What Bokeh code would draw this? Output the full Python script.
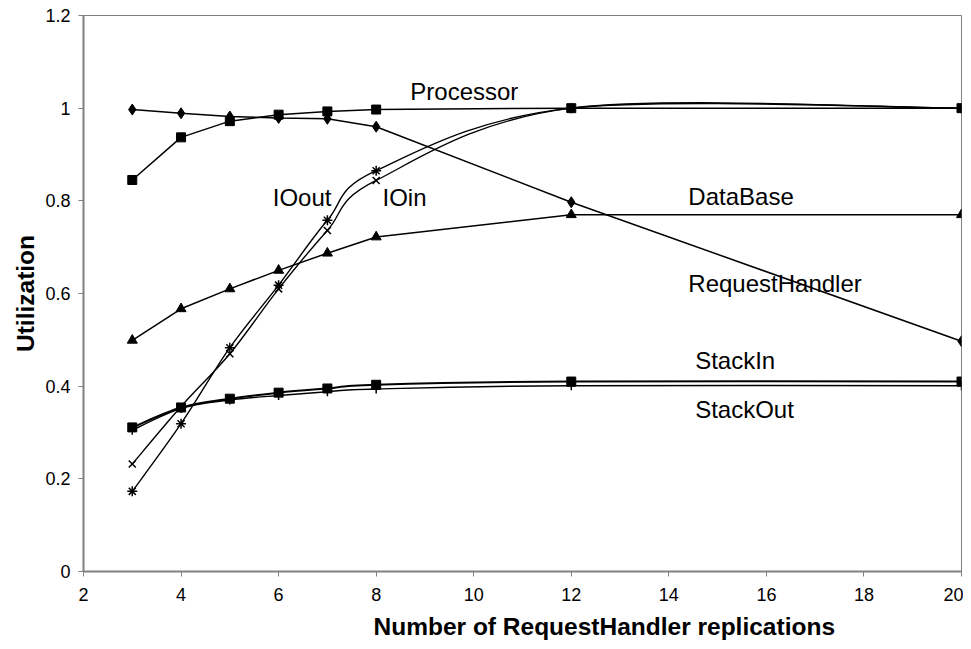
import numpy as np
from bokeh.plotting import figure
from bokeh.models import FixedTicker, Range1d, ColumnDataSource, Title
from bokeh.core.properties import value
from bokeh.embed import file_html
from bokeh.resources import INLINE

# ---- data ----
replications = [3, 4, 5, 6, 7, 8, 12, 20]
processor = [0.845, 0.937, 0.972, 0.986, 0.993, 0.997, 1.0, 1.0]
request_handler = [0.997, 0.989, 0.982, 0.979, 0.977, 0.960, 0.797, 0.497]
database = [0.499, 0.567, 0.610, 0.650, 0.687, 0.722, 0.770, 0.770]
io_in = [0.232, 0.356, 0.470, 0.610, 0.736, 0.844, 1.0, 1.0]
io_out = [0.173, 0.319, 0.483, 0.618, 0.758, 0.865, 1.0, 1.0]
stack_in = [0.311, 0.354, 0.373, 0.386, 0.395, 0.403, 0.410, 0.410]
stack_out = [0.305, 0.352, 0.370, 0.380, 0.388, 0.394, 0.401, 0.401]

x_ticks = [2, 4, 6, 8, 10, 12, 14, 16, 18, 20]
y_ticks = [0, 0.2, 0.4, 0.6, 0.8, 1.0, 1.2]
y_tick_labels = ["0", "0.2", "0.4", "0.6", "0.8", "1", "1.2"]

x_title = "Number of RequestHandler replications"
y_title = "Utilization"

label_texts = ["Processor", "IOout", "IOin", "DataBase", "RequestHandler", "StackIn", "StackOut"]
label_x = [8.70, 5.88, 8.13, 14.40, 14.40, 14.54, 14.54]
label_y = [1.037, 0.807, 0.807, 0.809, 0.622, 0.455, 0.350]

FONT = "Liberation Sans"
GRAY = "#808080"

p = figure(width=963, height=649, output_backend="svg", toolbar_location=None,
           x_range=Range1d(2, 20), y_range=Range1d(0, 1.2),
           min_border_left=83, min_border_right=2, min_border_top=15, min_border_bottom=78)
p.background_fill_color = "white"
p.border_fill_color = "white"
p.outline_line_color = GRAY
p.outline_line_width = 1
p.xgrid.visible = False
p.ygrid.visible = False

p.xaxis.ticker = FixedTicker(ticks=x_ticks)
p.yaxis.ticker = FixedTicker(ticks=y_ticks)
p.yaxis.major_label_overrides = {t: l for t, l in zip(y_ticks, y_tick_labels)}
for ax in (p.xaxis[0], p.yaxis[0]):
    ax.axis_line_color = GRAY
    ax.axis_line_width = 2
    ax.major_tick_line_color = GRAY
    ax.major_tick_in = 0
    ax.major_tick_out = 5
    ax.minor_tick_line_color = None
    ax.major_label_text_font = FONT
    ax.major_label_text_font_size = "18px"
    ax.major_label_text_color = "black"
    ax.axis_label_text_font = FONT
    ax.axis_label_text_font_size = "24.5px"
    ax.axis_label_text_font_style = "bold"
    ax.axis_label_text_color = "black"
p.yaxis.axis_label = y_title
p.xaxis.major_label_standoff = 11
p.yaxis.major_label_standoff = 8
p.yaxis.axis_label_standoff = 3

# x-axis title, offset to the right as in the original
p.add_layout(Title(text=x_title, align="left", offset=290, standoff=14,
                   text_font=FONT, text_font_size="24.5px", text_font_style="bold",
                   text_color="black"), "below")


def smooth(xs, ys):
    xs = np.asarray(xs, float)
    ys = np.asarray(ys, float)
    n = len(xs)
    px = np.concatenate([[xs[0]], xs, [xs[-1]]])
    py = np.concatenate([[ys[0]], ys, [ys[-1]]])
    out = dict(x0=[], y0=[], x1=[], y1=[], cx0=[], cy0=[], cx1=[], cy1=[])
    for i in range(n - 1):
        a, b, c, d = i, i + 1, i + 2, i + 3
        out["x0"].append(px[b]); out["y0"].append(py[b])
        out["x1"].append(px[c]); out["y1"].append(py[c])
        out["cx0"].append(px[b] + (px[c] - px[a]) / 6.0)
        out["cy0"].append(py[b] + (py[c] - py[a]) / 6.0)
        out["cx1"].append(px[c] - (px[d] - px[b]) / 6.0)
        out["cy1"].append(py[c] - (py[d] - py[b]) / 6.0)
    return ColumnDataSource(out)


# straight series
p.line(replications, processor, line_color="black", line_width=1.5)
p.scatter(replications, processor, marker="square", size=9, color="black")
p.line(replications, request_handler, line_color="black", line_width=1.5)
p.scatter(replications, request_handler, marker="diamond", size=11, color="black")
p.line(replications, database, line_color="black", line_width=1.5)
p.scatter(replications, database, marker="triangle", size=10, color="black")

# smoothed series
for ys, mk, sz, lw in [(io_in, "x", 10, 1.4), (io_out, "asterisk", 10, 1.4),
                       (stack_out, "cross", 9, 1.4), (stack_in, "square", 9, 2.0)]:
    src = smooth(replications, ys)
    p.bezier(x0="x0", y0="y0", x1="x1", y1="y1", cx0="cx0", cy0="cy0",
             cx1="cx1", cy1="cy1", source=src, line_color="black", line_width=lw)
    if mk in ("x", "asterisk", "cross"):
        p.scatter(replications, ys, marker=mk, size=sz, line_color="black",
                  fill_color=None, line_width=1.5)
    else:
        p.scatter(replications, ys, marker=mk, size=sz, color="black")

p.text(x=label_x, y=label_y, text=label_texts, text_font=value(FONT),
       text_font_size="24px", text_align="left", text_baseline="middle",
       text_color="black")

open("out.html", "w").write(file_html(p, INLINE))
